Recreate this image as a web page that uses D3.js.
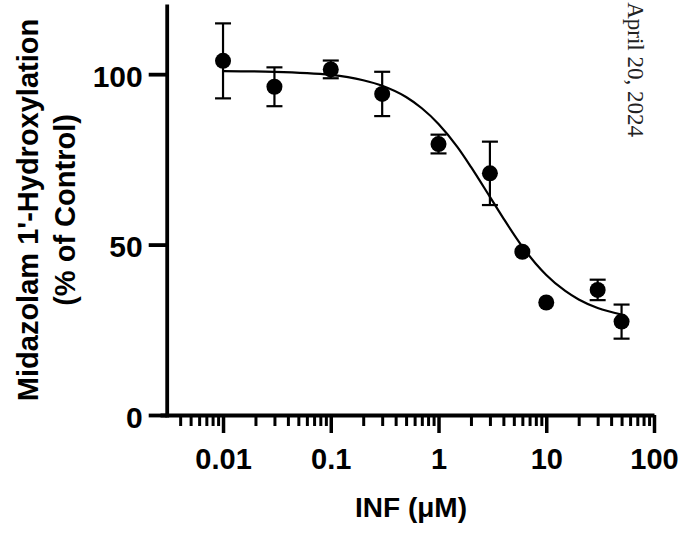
<!DOCTYPE html>
<html>
<head>
<meta charset="utf-8">
<script src="https://cdn.jsdelivr.net/npm/d3@7"></script>
<style>
  body { margin: 0; background: #fff; }
  svg text { font-family: "Liberation Sans", Arial, sans-serif; font-weight: bold; fill: #000; }
</style>
</head>
<body>
<svg id="chart" width="687" height="537"></svg>
<script>
// measured points (mean +/- SEM), INF concentration in uM
const conc = [0.01, 0.03, 0.1, 0.3, 1, 3, 6, 10, 30, 50];
const activity = [103.9, 96.3, 101.4, 94.2, 79.5, 70.9, 47.9, 33.0, 36.7, 27.4];
const sem = [11.0, 5.7, 2.6, 6.5, 2.75, 9.3, 0, 0, 3.0, 5.0];

// fitted inhibition curve
const fitConc = [0.01, 0.03, 0.1, 0.2, 0.3, 0.5, 0.7, 1, 1.5, 2, 3, 4, 6, 8, 10, 15, 20, 30, 50];
const fitActivity = [100.9, 100.7, 99.8, 98.2, 96.6, 93.3, 90.0, 85.4, 78.6, 72.8, 64.0, 57.7, 49.4, 44.4, 41.1, 36.4, 33.9, 31.4, 29.5];

const xMajor = [0.01, 0.1, 1, 10, 100];
const xTickLabels = ["0.01", "0.1", "1", "10", "100"];
const yTicks = [0, 50, 100];

const svg = d3.select("#chart");

const x = d3.scaleLog().domain([0.0026, 100]).range([160, 654]);
const y = d3.scaleLinear().domain([0, 120]).range([415, 6]);
const yAxisAt = x(0.003);

const axisStroke = 3.8;

// minor ticks on the log axis
const xMinor = x.ticks().filter(d => d >= 0.004 && !xMajor.some(m => Math.abs(m - d) / m < 1e-9));

const gMinor = svg.append("g")
    .attr("transform", `translate(0,${y(0)})`)
    .call(d3.axisBottom(x).tickValues(xMinor).tickSize(11).tickFormat(""));
gMinor.select(".domain").remove();
gMinor.selectAll(".tick line").attr("stroke", "#000").attr("stroke-width", 3);

const gx = svg.append("g")
    .attr("transform", `translate(0,${y(0)})`)
    .call(d3.axisBottom(x)
        .tickValues(xMajor)
        .tickSize(18)
        .tickSizeOuter(0)
        .tickPadding(15)
        .tickFormat((d, i) => xTickLabels[i]));
gx.select(".domain").attr("stroke", "#000").attr("stroke-width", axisStroke);
gx.selectAll(".tick line").attr("stroke", "#000").attr("stroke-width", 3.5);
gx.selectAll(".tick text").style("font-size", "29px");

const gy = svg.append("g")
    .attr("transform", `translate(${yAxisAt},0)`)
    .call(d3.axisLeft(y)
        .tickValues(yTicks)
        .tickSize(18)
        .tickSizeOuter(0)
        .tickPadding(6));
gy.select(".domain").attr("stroke", "#000").attr("stroke-width", axisStroke).attr("stroke-linecap", "square");
gy.selectAll(".tick line").attr("stroke", "#000").attr("stroke-width", axisStroke);
gy.selectAll(".tick text").style("font-size", "30px").attr("dy", "0.4em");

// fitted curve
const line = d3.line()
    .x((d, i) => x(fitConc[i]))
    .y(d => y(d))
    .curve(d3.curveMonotoneX);
svg.append("path")
    .datum(fitActivity)
    .attr("d", line)
    .attr("fill", "none")
    .attr("stroke", "#000")
    .attr("stroke-width", 2.2);

// error bars
const points = conc.map((c, i) => ({ c, v: activity[i], e: sem[i] }));
const bars = svg.append("g").attr("stroke", "#000").attr("stroke-width", 2.2);
const capW = 8;
points.filter(p => p.e > 0).forEach(p => {
    const cx = x(p.c);
    bars.append("line").attr("x1", cx).attr("x2", cx).attr("y1", y(p.v + p.e)).attr("y2", y(p.v - p.e));
    bars.append("line").attr("x1", cx - capW).attr("x2", cx + capW).attr("y1", y(p.v + p.e)).attr("y2", y(p.v + p.e));
    bars.append("line").attr("x1", cx - capW).attr("x2", cx + capW).attr("y1", y(p.v - p.e)).attr("y2", y(p.v - p.e));
});

svg.append("g").selectAll("circle")
    .data(points)
    .join("circle")
    .attr("cx", d => x(d.c))
    .attr("cy", d => y(d.v))
    .attr("r", 8)
    .attr("fill", "#000");

// axis titles
svg.append("text")
    .attr("transform", "translate(38,210) rotate(-90)")
    .attr("text-anchor", "middle")
    .style("font-size", "29px")
    .text("Midazolam 1'-Hydroxylation");
svg.append("text")
    .attr("transform", "translate(75,210) rotate(-90)")
    .attr("text-anchor", "middle")
    .style("font-size", "29px")
    .text("(% of Control)");

svg.append("text")
    .attr("x", 411)
    .attr("y", 517)
    .attr("text-anchor", "middle")
    .style("font-size", "28px")
    .text("INF (μM)");

// download stamp along the right edge
svg.append("text")
    .attr("transform", "translate(628,137) rotate(90)")
    .attr("text-anchor", "end")
    .style("font-family", "'Liberation Serif', 'Times New Roman', serif")
    .style("font-weight", "normal")
    .style("font-size", "23px")
    .style("fill", "#222")
    .text("April 20, 2024");
</script>
</body>
</html>
